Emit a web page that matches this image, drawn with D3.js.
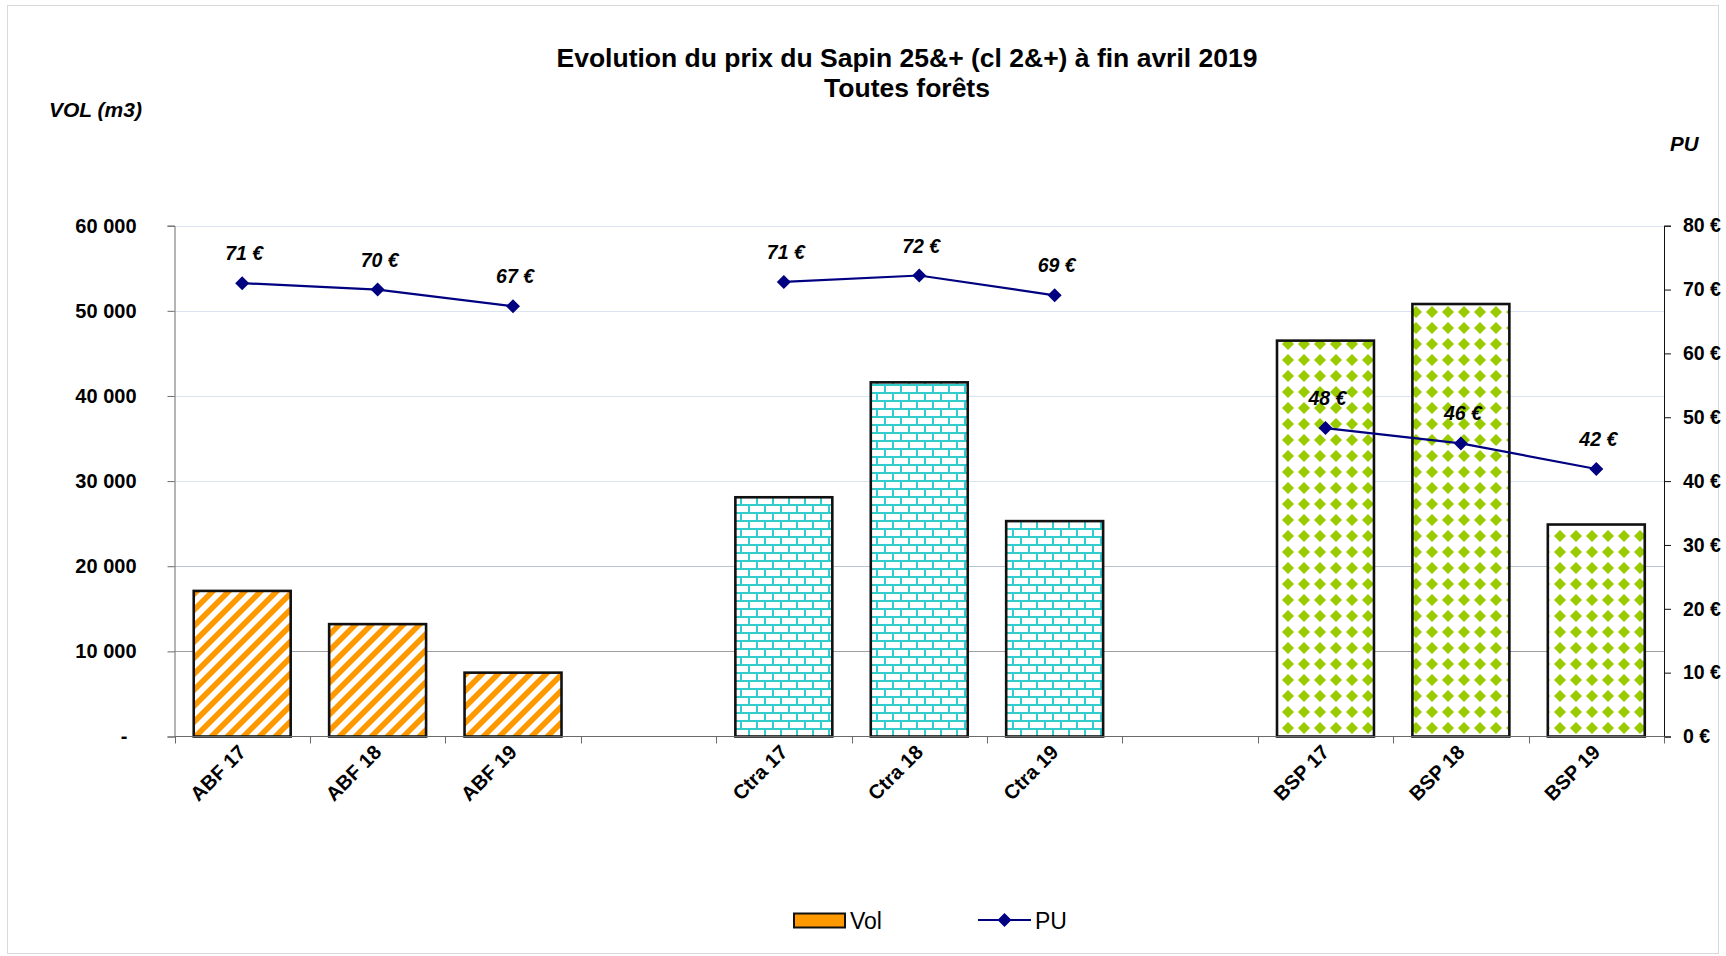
<!DOCTYPE html>
<html>
<head>
<meta charset="utf-8">
<script src="https://cdnjs.cloudflare.com/ajax/libs/d3/7.8.5/d3.min.js"></script>
<style>
  body { margin: 0; background: #fff; }
  text { font-family: "Liberation Sans", Arial, sans-serif; }
</style>
</head>
<body>
<svg id="svgSapinChart" width="1726" height="956"></svg>
<script>
// categories (empty slots separate the three groups)
const categories = ["ABF 17", "ABF 18", "ABF 19", "", "Ctra 17", "Ctra 18", "Ctra 19", "", "BSP 17", "BSP 18", "BSP 19"];
const groups = ["ABF", "ABF", "ABF", null, "Ctra", "Ctra", "Ctra", null, "BSP", "BSP", "BSP"];
// volume (m3)
const volumes = [17100, 13200, 7500, null, 28100, 41600, 25300, null, 46500, 50800, 24900];
// prix unitaire (€)
const prices = [71.0, 70.0, 67.4, null, 71.2, 72.2, 69.1, null, 48.3, 45.9, 41.9];
const volTicks = [0, 10000, 20000, 30000, 40000, 50000, 60000];
const puTicks = [0, 10, 20, 30, 40, 50, 60, 70, 80];

const title1 = "Evolution du prix du Sapin 25&+ (cl 2&+) à fin avril 2019";
const title2 = "Toutes forêts";

let svg = d3.select("#svgSapinChart");
let margin = { top: 225.7, left: 174.5, right: 1664, bottom: 736.5 };

// frame
svg.append("rect")
  .attr("x", 7.5).attr("y", 5.5)
  .attr("width", 1711).attr("height", 948)
  .attr("fill", "none")
  .attr("stroke", "#d9d9d9")
  .attr("stroke-width", 1);

// patterns
let defs = svg.append("defs");

let pStripe = defs.append("pattern")
  .attr("id", "patABF").attr("patternUnits", "userSpaceOnUse")
  .attr("width", 16).attr("height", 16);
pStripe.append("rect").attr("width", 16).attr("height", 16).attr("fill", "#fff");
pStripe.append("polygon").attr("points", "0,0 8,0 0,8").attr("fill", "#ff9900");
pStripe.append("polygon").attr("points", "16,0 16,8 8,16 0,16").attr("fill", "#ff9900");

let pBrick = defs.append("pattern")
  .attr("id", "patCtra").attr("patternUnits", "userSpaceOnUse")
  .attr("width", 16).attr("height", 16);
pBrick.append("rect").attr("width", 16).attr("height", 16).attr("fill", "#fff");
pBrick.append("rect").attr("x", 0).attr("y", 0).attr("width", 16).attr("height", 2).attr("fill", "#33cccc");
pBrick.append("rect").attr("x", 0).attr("y", 8).attr("width", 16).attr("height", 2).attr("fill", "#33cccc");
pBrick.append("rect").attr("x", 4).attr("y", 2).attr("width", 2).attr("height", 6).attr("fill", "#33cccc");
pBrick.append("rect").attr("x", 12).attr("y", 10).attr("width", 2).attr("height", 6).attr("fill", "#33cccc");

let pDiam = defs.append("pattern")
  .attr("id", "patBSP").attr("patternUnits", "userSpaceOnUse")
  .attr("width", 16).attr("height", 16);
pDiam.append("rect").attr("width", 16).attr("height", 16).attr("fill", "#fff");
pDiam.append("polygon").attr("points", "8,2 14,8 8,14 2,8").attr("fill", "#99cc00");

// scales
let x = d3.scaleBand()
  .domain(d3.range(categories.length))
  .range([margin.left, margin.right])
  .paddingInner(0.284)
  .paddingOuter(0.142);
let step = x.step();
let cx = function(i) { return x(i) + x.bandwidth() / 2; };

let yVol = d3.scaleLinear().domain([0, 60000]).range([margin.bottom, margin.top]);
let yPu = d3.scaleLinear().domain([0, 80]).range([margin.bottom, margin.top]);

// gridlines
let gridColor = function(d) {
  if (d == 10000) return "#a0a0a0";
  if (d == 20000) return "#b8c4d2";
  return "#dae4f0";
};
svg.append("g").selectAll("line")
  .data(volTicks.filter(function(d) { return d > 0; }))
  .enter().append("line")
  .attr("x1", margin.left).attr("x2", margin.right)
  .attr("y1", function(d) { return Math.round(yVol(d)) + 0.5; })
  .attr("y2", function(d) { return Math.round(yVol(d)) + 0.5; })
  .attr("stroke", gridColor)
  .attr("stroke-width", 1.2);

// bars
svg.append("g").selectAll("rect")
  .data(volumes.map(function(v, i) { return { i: i, v: v, g: groups[i] }; }).filter(function(d) { return d.v != null; }))
  .enter().append("rect")
  .attr("x", function(d) { return x(d.i); })
  .attr("y", function(d) { return yVol(d.v); })
  .attr("width", x.bandwidth())
  .attr("height", function(d) { return yVol(0) - yVol(d.v); })
  .attr("fill", function(d) { return "url(#pat" + d.g + ")"; })
  .attr("stroke", "#111")
  .attr("stroke-width", 2.6);

// left axis
let fmtVol = function(d) { return d == 0 ? "-" : d3.format(",")(d).replace(/,/g, " "); };
let gl = svg.append("g")
  .attr("transform", "translate(" + margin.left + ",0)")
  .call(d3.axisLeft(yVol).tickValues(volTicks).tickSize(7).tickPadding(31).tickFormat(fmtVol));
gl.select(".domain").attr("stroke", "#6a6a6a");
gl.selectAll(".tick line").attr("stroke", "#6a6a6a");
gl.selectAll(".tick text")
  .attr("fill", "#000")
  .style("font-size", "20px").style("font-weight", "bold")
  .attr("dx", function(d) { return d == 0 ? -9 : 0; });

// right axis
let gr = svg.append("g")
  .attr("transform", "translate(" + margin.right + ",0)")
  .call(d3.axisRight(yPu).tickValues(puTicks).tickSize(7).tickPadding(12).tickFormat(function(d) { return d + " €"; }));
gr.select(".domain").attr("stroke", "#111");
gr.selectAll(".tick line").attr("stroke", "#111");
gr.selectAll(".tick text")
  .attr("fill", "#000")
  .style("font-size", "19.5px").style("font-weight", "bold");

// bottom axis line and ticks at slot boundaries
svg.append("line")
  .attr("x1", margin.left).attr("x2", margin.right)
  .attr("y1", margin.bottom).attr("y2", margin.bottom)
  .attr("stroke", "#6a6a6a").attr("stroke-width", 1.2);
svg.append("g").selectAll("line")
  .data(d3.range(categories.length + 1))
  .enter().append("line")
  .attr("x1", function(d) { return Math.round(margin.left + d * step) + 0.5; })
  .attr("x2", function(d) { return Math.round(margin.left + d * step) + 0.5; })
  .attr("y1", margin.bottom).attr("y2", margin.bottom + 7)
  .attr("stroke", "#6a6a6a");

svg.append("g").selectAll("text")
  .data(categories.map(function(c, i) { return { c: c, i: i }; }).filter(function(d) { return d.c != ""; }))
  .enter().append("text")
  .attr("transform", function(d) { return "translate(" + (cx(d.i) + 5) + "," + (margin.bottom + 17) + ") rotate(-45)"; })
  .attr("text-anchor", "end")
  .style("font-size", "20px").style("font-weight", "bold")
  .text(function(d) { return d.c; });

// price line
let puData = prices.map(function(v, i) { return { i: i, v: v }; });
let line = d3.line()
  .defined(function(d) { return d.v != null; })
  .x(function(d) { return cx(d.i); })
  .y(function(d) { return yPu(d.v); });

svg.append("path")
  .datum(puData)
  .attr("fill", "none")
  .attr("stroke", "#000080")
  .attr("stroke-width", 2.2)
  .attr("d", line);

let diamond = "M0,-7L7,0L0,7L-7,0Z";
svg.append("g").selectAll("path")
  .data(puData.filter(function(d) { return d.v != null; }))
  .enter().append("path")
  .attr("d", diamond)
  .attr("transform", function(d) { return "translate(" + cx(d.i) + "," + yPu(d.v) + ")"; })
  .attr("fill", "#000080");

svg.append("g").selectAll("text")
  .data(puData.filter(function(d) { return d.v != null; }))
  .enter().append("text")
  .attr("x", function(d) { return cx(d.i) + 2; })
  .attr("y", function(d) { return yPu(d.v) - 23; })
  .attr("text-anchor", "middle")
  .style("font-size", "19.5px").style("font-weight", "bold").style("font-style", "italic")
  .text(function(d) { return Math.round(d.v) + " €"; });

// titles
svg.append("text")
  .attr("x", 907).attr("y", 66.5)
  .attr("text-anchor", "middle")
  .style("font-size", "26.5px").style("font-weight", "bold")
  .text(title1);
svg.append("text")
  .attr("x", 907).attr("y", 96.5)
  .attr("text-anchor", "middle")
  .style("font-size", "26.5px").style("font-weight", "bold")
  .text(title2);

svg.append("text")
  .attr("x", 49).attr("y", 116.5)
  .style("font-size", "21px").style("font-weight", "bold").style("font-style", "italic")
  .text("VOL (m3)");
svg.append("text")
  .attr("x", 1670).attr("y", 151)
  .style("font-size", "20.5px").style("font-weight", "bold").style("font-style", "italic")
  .text("PU");

// legend
svg.append("rect")
  .attr("x", 794).attr("y", 913.5)
  .attr("width", 51).attr("height", 14)
  .attr("fill", "#ff9900")
  .attr("stroke", "#111").attr("stroke-width", 2);
svg.append("text")
  .attr("x", 850).attr("y", 929)
  .style("font-size", "23px")
  .text("Vol");
svg.append("line")
  .attr("x1", 978).attr("x2", 1031)
  .attr("y1", 920).attr("y2", 920)
  .attr("stroke", "#000080").attr("stroke-width", 2.2);
svg.append("path")
  .attr("d", diamond)
  .attr("transform", "translate(1004.5,920)")
  .attr("fill", "#000080");
svg.append("text")
  .attr("x", 1035).attr("y", 929)
  .style("font-size", "23px")
  .text("PU");
</script>
</body>
</html>
